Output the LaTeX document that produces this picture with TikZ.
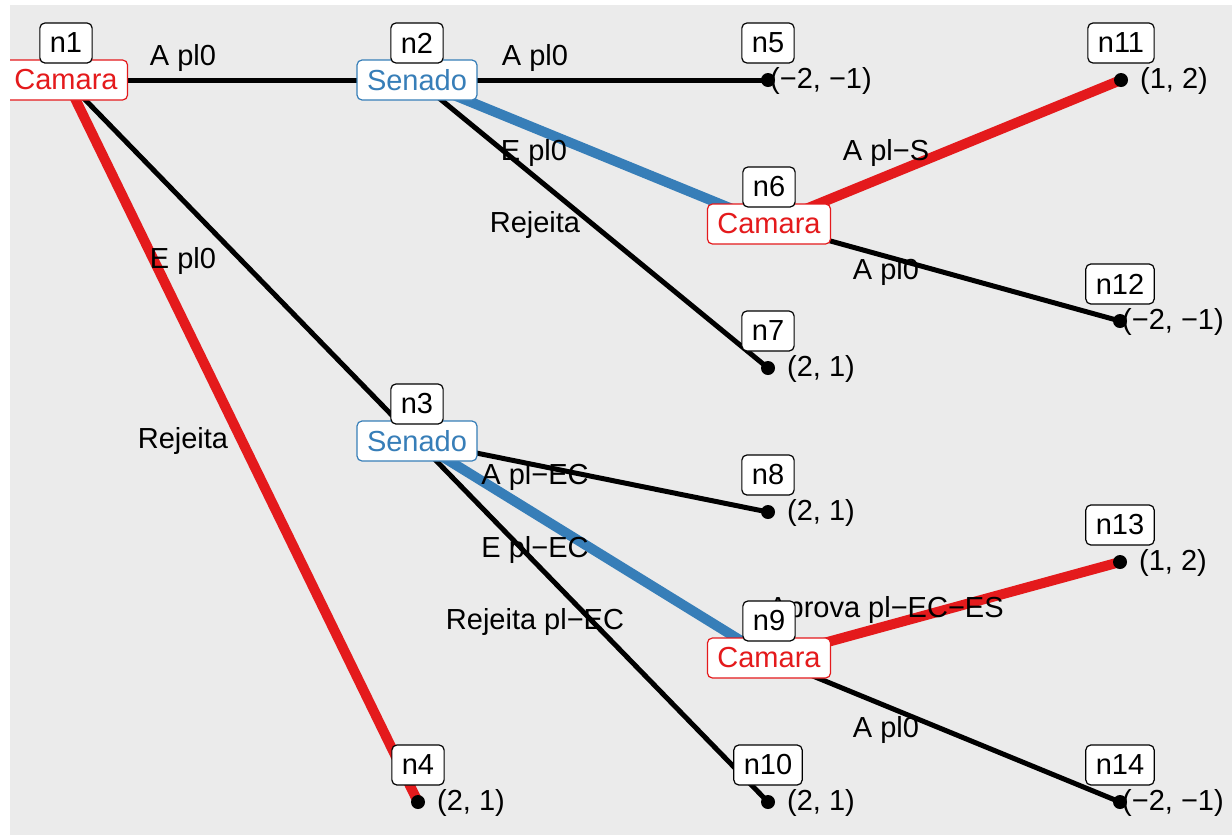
\documentclass[tikz,border=0pt]{standalone}
\usepackage{fontspec}
\setmainfont{Liberation Sans}
\definecolor{camred}{HTML}{E41A1C}
\definecolor{senblue}{HTML}{377EB8}
\definecolor{panelgray}{HTML}{EBEBEB}
\tikzset{
  plain/.style={line width=5pt, black},
  redpath/.style={line width=10pt, camred},
  bluepath/.style={line width=10pt, senblue},
  txt/.style={font=\fontsize{29}{32}\selectfont, inner sep=0pt},
  actor/.style={txt, draw, fill=white, rounded corners=5pt, line width=1.2pt,
    inner xsep=10pt, minimum height=40pt},
  tag/.style={txt, draw=black, fill=white, rounded corners=5pt, line width=1.2pt,
    inner xsep=10pt, minimum height=40pt, yshift=37pt},
  leaf/.style={circle, fill=black, inner sep=0pt, minimum size=14pt},
  payoff/.style={txt, xshift=53pt, yshift=-1pt}
}
\begin{document}
\begin{tikzpicture}[x=1pt,y=-1pt]
  \useasboundingbox (0,0) rectangle (1232,839);
  \fill[panelgray] (10,5) rectangle (1232,835);
  \begin{scope}
    \clip (10,5) rectangle (1232,835);
    % tree positions
    \coordinate (n1) at (66,80);
    \coordinate (n2) at (417,80);
    \coordinate (n3) at (417,441);
    \coordinate (n4) at (418,802);
    \coordinate (n5) at (768,80);
    \coordinate (n6) at (769,224);
    \coordinate (n7) at (768,368);
    \coordinate (n8) at (768,512);
    \coordinate (n9) at (769,658);
    \coordinate (n10) at (768,802);
    \coordinate (n11) at (1121,80);
    \coordinate (n12) at (1120,321);
    \coordinate (n13) at (1120,562);
    \coordinate (n14) at (1120,802);
    % edges
    \draw[plain] (n1) -- (n2);
    \draw[plain] (n1) -- (n3);
    \draw[redpath] (n1) -- (n4);
    \draw[plain] (n2) -- (n5);
    \draw[bluepath] (n2) -- (n6);
    \draw[plain] (n2) -- (n7);
    \draw[plain] (n3) -- (n8);
    \draw[bluepath] (n3) -- (n9);
    \draw[plain] (n3) -- (n10);
    \draw[redpath] (n6) -- (n11);
    \draw[plain] (n6) -- (n12);
    \draw[redpath] (n9) -- (n13);
    \draw[plain] (n9) -- (n14);
    % edge labels
    \node[txt] (e12) at (183,58) {A pl0};
    \node[txt] (e14) at (183,261) {E pl0};
    \node[txt] (e13) at (183,441) {Rejeita};
    \node[txt] (e25) at (535,58) {A pl0};
    \node[txt] (e26) at (534,153) {E pl0};
    \node[txt] (e27) at (535,225) {Rejeita};
    \node[txt] (e611) at (886,153) {A pl−S};
    \node[txt] (e612) at (886,272) {A pl0};
    \node[txt] (e38) at (535,477) {A pl−EC};
    \node[txt] (e39) at (535,550) {E pl−EC};
    \node[txt] (e310) at (535,622) {Rejeita pl−EC};
    \node[txt] (e913) at (886,610) {Aprova pl−EC−ES};
    \node[txt] (e914) at (886,730) {A pl0};
    % leaves
    \foreach \n/\pay in {4/{(2, 1)},5/{(−2, −1)},7/{(2, 1)},8/{(2, 1)},10/{(2, 1)},
        11/{(1, 2)},12/{(−2, −1)},13/{(1, 2)},14/{(−2, −1)}}{
      \node[leaf] (d\n) at (n\n) {};
      \node[payoff] (p\n) at (n\n) {\pay};
    }
    % decision nodes
    \node[actor, draw=camred, text=camred] (a1) at (n1) {Camara};
    \node[actor, draw=senblue, text=senblue] (a2) at (n2) {Senado};
    \node[actor, draw=senblue, text=senblue] (a3) at (n3) {Senado};
    \node[actor, draw=camred, text=camred] (a6) at (n6) {Camara};
    \node[actor, draw=camred, text=camred] (a9) at (n9) {Camara};
    % id tags
    \foreach \n in {1,...,14}{
      \node[tag] (t\n) at (n\n) {n\n};
    }
  \end{scope}
\end{tikzpicture}
\end{document}
